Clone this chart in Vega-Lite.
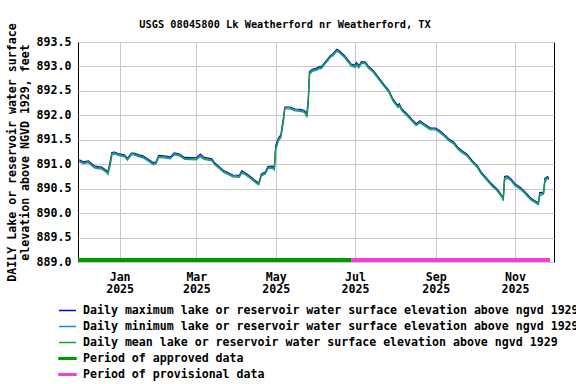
{
  "$schema": "https://vega.github.io/schema/vega-lite/v6.json",
  "width": 476,
  "height": 220,
  "autosize": {"type": "none"},
  "padding": {"left": 78, "top": 42, "right": 22, "bottom": 122},
  "title": {"text": "USGS 08045800 Lk Weatherford nr Weatherford, TX", "font": "DejaVu Sans Mono", "fontSize": 10.3, "fontWeight": "bold", "anchor": "middle", "dx": -31, "dy": 23, "offset": 16, "color": "#000"},
  "data": {"values": [
    {"date": "2024-12-01", "max": 891.09, "min": 891.05, "mean": 891.07},
    {"date": "2024-12-04", "max": 891.05, "min": 891.01, "mean": 891.03},
    {"date": "2024-12-08", "max": 891.07, "min": 891.03, "mean": 891.05},
    {"date": "2024-12-10", "max": 891.02, "min": 890.98, "mean": 891.00},
    {"date": "2024-12-13", "max": 890.96, "min": 890.92, "mean": 890.94},
    {"date": "2024-12-18", "max": 890.94, "min": 890.90, "mean": 890.92},
    {"date": "2024-12-22", "max": 890.87, "min": 890.83, "mean": 890.85},
    {"date": "2024-12-23", "max": 890.84, "min": 890.79, "mean": 890.82},
    {"date": "2024-12-25", "max": 891.10, "min": 891.00, "mean": 891.05},
    {"date": "2024-12-26", "max": 891.24, "min": 891.18, "mean": 891.21},
    {"date": "2024-12-28", "max": 891.25, "min": 891.21, "mean": 891.23},
    {"date": "2025-01-01", "max": 891.21, "min": 891.17, "mean": 891.19},
    {"date": "2025-01-05", "max": 891.19, "min": 891.15, "mean": 891.17},
    {"date": "2025-01-07", "max": 891.12, "min": 891.08, "mean": 891.10},
    {"date": "2025-01-10", "max": 891.23, "min": 891.19, "mean": 891.21},
    {"date": "2025-01-12", "max": 891.23, "min": 891.19, "mean": 891.21},
    {"date": "2025-01-16", "max": 891.19, "min": 891.15, "mean": 891.17},
    {"date": "2025-01-19", "max": 891.17, "min": 891.13, "mean": 891.15},
    {"date": "2025-01-23", "max": 891.10, "min": 891.06, "mean": 891.08},
    {"date": "2025-01-27", "max": 891.03, "min": 890.99, "mean": 891.01},
    {"date": "2025-01-29", "max": 891.05, "min": 891.01, "mean": 891.03},
    {"date": "2025-01-31", "max": 891.18, "min": 891.14, "mean": 891.16},
    {"date": "2025-02-04", "max": 891.17, "min": 891.13, "mean": 891.15},
    {"date": "2025-02-09", "max": 891.15, "min": 891.11, "mean": 891.13},
    {"date": "2025-02-12", "max": 891.23, "min": 891.19, "mean": 891.21},
    {"date": "2025-02-16", "max": 891.21, "min": 891.17, "mean": 891.19},
    {"date": "2025-02-20", "max": 891.14, "min": 891.10, "mean": 891.12},
    {"date": "2025-03-01", "max": 891.13, "min": 891.09, "mean": 891.11},
    {"date": "2025-03-04", "max": 891.21, "min": 891.15, "mean": 891.18},
    {"date": "2025-03-07", "max": 891.14, "min": 891.10, "mean": 891.12},
    {"date": "2025-03-13", "max": 891.11, "min": 891.07, "mean": 891.09},
    {"date": "2025-03-15", "max": 891.03, "min": 890.99, "mean": 891.01},
    {"date": "2025-03-19", "max": 890.94, "min": 890.90, "mean": 890.92},
    {"date": "2025-03-22", "max": 890.87, "min": 890.83, "mean": 890.85},
    {"date": "2025-03-26", "max": 890.82, "min": 890.78, "mean": 890.80},
    {"date": "2025-03-29", "max": 890.78, "min": 890.74, "mean": 890.76},
    {"date": "2025-04-03", "max": 890.77, "min": 890.73, "mean": 890.75},
    {"date": "2025-04-05", "max": 890.87, "min": 890.82, "mean": 890.84},
    {"date": "2025-04-09", "max": 890.80, "min": 890.76, "mean": 890.78},
    {"date": "2025-04-12", "max": 890.74, "min": 890.70, "mean": 890.72},
    {"date": "2025-04-16", "max": 890.65, "min": 890.61, "mean": 890.63},
    {"date": "2025-04-18", "max": 890.62, "min": 890.58, "mean": 890.60},
    {"date": "2025-04-20", "max": 890.80, "min": 890.76, "mean": 890.78},
    {"date": "2025-04-23", "max": 890.84, "min": 890.80, "mean": 890.82},
    {"date": "2025-04-25", "max": 890.95, "min": 890.91, "mean": 890.93},
    {"date": "2025-04-28", "max": 890.96, "min": 890.92, "mean": 890.94},
    {"date": "2025-04-30", "max": 890.95, "min": 890.88, "mean": 890.92},
    {"date": "2025-05-01", "max": 891.38, "min": 891.28, "mean": 891.33},
    {"date": "2025-05-03", "max": 891.53, "min": 891.47, "mean": 891.50},
    {"date": "2025-05-05", "max": 891.60, "min": 891.54, "mean": 891.57},
    {"date": "2025-05-07", "max": 891.96, "min": 891.86, "mean": 891.91},
    {"date": "2025-05-08", "max": 892.17, "min": 892.13, "mean": 892.15},
    {"date": "2025-05-12", "max": 892.17, "min": 892.13, "mean": 892.15},
    {"date": "2025-05-16", "max": 892.13, "min": 892.09, "mean": 892.11},
    {"date": "2025-05-20", "max": 892.12, "min": 892.08, "mean": 892.10},
    {"date": "2025-05-23", "max": 892.10, "min": 892.06, "mean": 892.08},
    {"date": "2025-05-25", "max": 892.04, "min": 891.97, "mean": 892.01},
    {"date": "2025-05-26", "max": 892.32, "min": 892.18, "mean": 892.25},
    {"date": "2025-05-27", "max": 892.89, "min": 892.83, "mean": 892.86},
    {"date": "2025-05-29", "max": 892.94, "min": 892.90, "mean": 892.92},
    {"date": "2025-06-01", "max": 892.96, "min": 892.92, "mean": 892.94},
    {"date": "2025-06-04", "max": 893.00, "min": 892.96, "mean": 892.98},
    {"date": "2025-06-05", "max": 892.99, "min": 892.95, "mean": 892.97},
    {"date": "2025-06-08", "max": 893.09, "min": 893.05, "mean": 893.07},
    {"date": "2025-06-12", "max": 893.22, "min": 893.18, "mean": 893.20},
    {"date": "2025-06-14", "max": 893.26, "min": 893.22, "mean": 893.24},
    {"date": "2025-06-17", "max": 893.35, "min": 893.31, "mean": 893.33},
    {"date": "2025-06-19", "max": 893.32, "min": 893.28, "mean": 893.30},
    {"date": "2025-06-23", "max": 893.22, "min": 893.18, "mean": 893.20},
    {"date": "2025-06-26", "max": 893.12, "min": 893.08, "mean": 893.10},
    {"date": "2025-06-28", "max": 893.05, "min": 893.01, "mean": 893.03},
    {"date": "2025-07-01", "max": 893.03, "min": 892.98, "mean": 893.01},
    {"date": "2025-07-02", "max": 893.08, "min": 893.02, "mean": 893.05},
    {"date": "2025-07-04", "max": 893.02, "min": 892.97, "mean": 893.00},
    {"date": "2025-07-06", "max": 893.10, "min": 893.06, "mean": 893.08},
    {"date": "2025-07-09", "max": 893.09, "min": 893.05, "mean": 893.07},
    {"date": "2025-07-11", "max": 893.01, "min": 892.97, "mean": 892.99},
    {"date": "2025-07-15", "max": 892.92, "min": 892.88, "mean": 892.90},
    {"date": "2025-07-19", "max": 892.78, "min": 892.74, "mean": 892.76},
    {"date": "2025-07-23", "max": 892.64, "min": 892.60, "mean": 892.62},
    {"date": "2025-07-27", "max": 892.51, "min": 892.47, "mean": 892.49},
    {"date": "2025-07-30", "max": 892.34, "min": 892.30, "mean": 892.32},
    {"date": "2025-08-03", "max": 892.20, "min": 892.16, "mean": 892.18},
    {"date": "2025-08-04", "max": 892.24, "min": 892.19, "mean": 892.21},
    {"date": "2025-08-06", "max": 892.13, "min": 892.09, "mean": 892.11},
    {"date": "2025-08-10", "max": 892.03, "min": 891.99, "mean": 892.01},
    {"date": "2025-08-14", "max": 891.91, "min": 891.87, "mean": 891.89},
    {"date": "2025-08-17", "max": 891.83, "min": 891.79, "mean": 891.81},
    {"date": "2025-08-20", "max": 891.89, "min": 891.85, "mean": 891.87},
    {"date": "2025-08-24", "max": 891.81, "min": 891.77, "mean": 891.79},
    {"date": "2025-08-28", "max": 891.74, "min": 891.70, "mean": 891.72},
    {"date": "2025-09-01", "max": 891.74, "min": 891.70, "mean": 891.72},
    {"date": "2025-09-04", "max": 891.69, "min": 891.65, "mean": 891.67},
    {"date": "2025-09-08", "max": 891.60, "min": 891.56, "mean": 891.58},
    {"date": "2025-09-11", "max": 891.52, "min": 891.48, "mean": 891.50},
    {"date": "2025-09-15", "max": 891.45, "min": 891.41, "mean": 891.43},
    {"date": "2025-09-18", "max": 891.35, "min": 891.31, "mean": 891.33},
    {"date": "2025-09-21", "max": 891.28, "min": 891.24, "mean": 891.26},
    {"date": "2025-09-25", "max": 891.21, "min": 891.17, "mean": 891.19},
    {"date": "2025-09-29", "max": 891.08, "min": 891.04, "mean": 891.06},
    {"date": "2025-10-03", "max": 890.97, "min": 890.93, "mean": 890.95},
    {"date": "2025-10-06", "max": 890.84, "min": 890.80, "mean": 890.82},
    {"date": "2025-10-10", "max": 890.72, "min": 890.68, "mean": 890.70},
    {"date": "2025-10-14", "max": 890.60, "min": 890.56, "mean": 890.58},
    {"date": "2025-10-18", "max": 890.50, "min": 890.46, "mean": 890.48},
    {"date": "2025-10-22", "max": 890.36, "min": 890.32, "mean": 890.34},
    {"date": "2025-10-23", "max": 890.30, "min": 890.25, "mean": 890.28},
    {"date": "2025-10-24", "max": 890.75, "min": 890.66, "mean": 890.72},
    {"date": "2025-10-26", "max": 890.76, "min": 890.72, "mean": 890.74},
    {"date": "2025-10-29", "max": 890.70, "min": 890.66, "mean": 890.68},
    {"date": "2025-11-01", "max": 890.60, "min": 890.56, "mean": 890.58},
    {"date": "2025-11-05", "max": 890.53, "min": 890.49, "mean": 890.51},
    {"date": "2025-11-09", "max": 890.43, "min": 890.39, "mean": 890.41},
    {"date": "2025-11-13", "max": 890.31, "min": 890.27, "mean": 890.29},
    {"date": "2025-11-16", "max": 890.26, "min": 890.22, "mean": 890.24},
    {"date": "2025-11-19", "max": 890.21, "min": 890.17, "mean": 890.19},
    {"date": "2025-11-20", "max": 890.42, "min": 890.35, "mean": 890.39},
    {"date": "2025-11-23", "max": 890.43, "min": 890.39, "mean": 890.41},
    {"date": "2025-11-24", "max": 890.71, "min": 890.63, "mean": 890.68},
    {"date": "2025-11-26", "max": 890.75, "min": 890.71, "mean": 890.73},
    {"date": "2025-11-27", "max": 890.72, "min": 890.68, "mean": 890.70}
  ]},
  "layer": [
    {
      "mark": {"type": "line", "strokeWidth": 1.2, "clip": true},
      "encoding": {
        "x": {"field": "date", "type": "temporal",
          "scale": {"type": "utc", "domain": [{"year": 2024, "month": 11, "date": 30, "utc": true}, {"year": 2025, "month": 12, "date": 1, "utc": true}]},
          "axis": {"title": null, "values": [{"year": 2025, "month": 1, "date": 1, "utc": true}, {"year": 2025, "month": 3, "date": 1, "utc": true}, {"year": 2025, "month": 5, "date": 1, "utc": true}, {"year": 2025, "month": 7, "date": 1, "utc": true}, {"year": 2025, "month": 9, "date": 1, "utc": true}, {"year": 2025, "month": 11, "date": 1, "utc": true}],
            "tickCount": 20,
            "labelExpr": "[utcFormat(datum.value, '%b'), utcFormat(datum.value, '%Y')]",
            "labelLineHeight": 12.5, "labelPadding": 9, "labelFlush": false, "labelAlign": "center", "labelBaseline": "top"}},
        "y": {"field": "max", "type": "quantitative",
          "scale": {"domain": [889, 893.5], "nice": false, "zero": false},
          "axis": {"title": ["DAILY Lake or reservoir water surface", "elevation above NGVD 1929, feet"], "values": [889, 889.5, 890, 890.5, 891, 891.5, 892, 892.5, 893, 893.5], "tickCount": 20, "format": ".1f", "labelPadding": 7, "titlePadding": 6, "titleLineHeight": 12.5}},
        "color": {"datum": "Daily maximum lake or reservoir water surface elevation above ngvd 1929",
          "scale": {"domain": ["Daily maximum lake or reservoir water surface elevation above ngvd 1929", "Daily minimum lake or reservoir water surface elevation above ngvd 1929", "Daily mean lake or reservoir water surface elevation above ngvd 1929", "Period of approved data", "Period of provisional data"],
            "range": ["#0000ff", "#1a8ad0", "#1aa01a", "#009900", "#f040d8"]},
          "legend": {"orient": "none", "legendX": -20, "legendY": 259, "title": null, "symbolType": "stroke", "symbolSize": 289, "symbolStrokeWidth": 1.5,
            "labelFont": "DejaVu Sans Mono", "labelFontSize": 11.6, "labelFontWeight": "bold", "labelColor": "#000", "labelLimit": 1000, "rowPadding": 0, "labelOffset": 6, "padding": 0,
            "encode": {"symbols": {"update": {
              "shape": {"signal": "(datum.value == 'Period of approved data' || datum.value == 'Period of provisional data') ? 'M-1,-0.1H1V0.1H-1Z' : 'stroke'"},
              "fill": {"scale": "color", "field": "value"}}}}}}
      }
    },
    {
      "mark": {"type": "line", "strokeWidth": 1.2, "clip": true},
      "encoding": {
        "x": {"field": "date", "type": "temporal"},
        "y": {"field": "min", "type": "quantitative"},
        "color": {"datum": "Daily minimum lake or reservoir water surface elevation above ngvd 1929"}
      }
    },
    {
      "mark": {"type": "line", "strokeWidth": 1.2, "clip": true},
      "encoding": {
        "x": {"field": "date", "type": "temporal"},
        "y": {"field": "mean", "type": "quantitative"},
        "color": {"datum": "Daily mean lake or reservoir water surface elevation above ngvd 1929"}
      }
    },
    {
      "data": {"values": [
        {"start": "2024-11-30", "end": "2025-06-28", "status": "Period of approved data"},
        {"start": "2025-06-28", "end": "2025-11-28", "status": "Period of provisional data"}
      ]},
      "mark": {"type": "rule", "strokeWidth": 4},
      "encoding": {
        "x": {"field": "start", "type": "temporal"},
        "x2": {"field": "end"},
        "y": {"datum": 889.04, "type": "quantitative"},
        "color": {"field": "status", "type": "nominal", "title": null}
      }
    }
  ],
  "config": {
    "font": "DejaVu Sans Mono",
    "view": {"stroke": "#000", "strokeWidth": 1},
    "axis": {"labelFont": "DejaVu Sans Mono", "labelFontWeight": "bold", "labelFontSize": 11.6, "labelColor": "#000",
      "titleFont": "DejaVu Sans Mono", "titleFontSize": 11.6, "titleFontWeight": "bold", "titleColor": "#000",
      "gridColor": "#c8c8c8", "gridOpacity": 1, "gridWidth": 1, "ticks": false, "domain": false, "labelOverlap": false}
  }
}
